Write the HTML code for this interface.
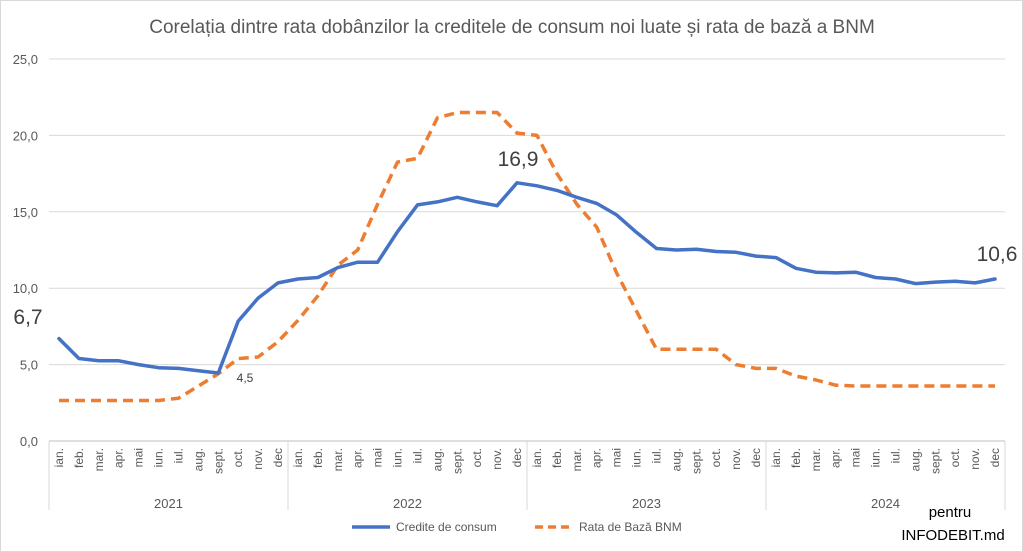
<!DOCTYPE html>
<html><head><meta charset="utf-8"><style>
html,body{margin:0;padding:0;background:#fff}
svg{display:block;font-family:"Liberation Sans",Calibri,sans-serif}
</style></head><body>
<svg id="c" width="1023" height="552" xmlns="http://www.w3.org/2000/svg">
<rect x="0.5" y="0.5" width="1022" height="551" fill="#fff" stroke="#d9d9d9"/>
<text x="512" y="33" text-anchor="middle" font-size="19" fill="#595959">Corelația dintre rata dobânzilor la creditele de consum noi luate și rata de bază a BNM</text>
<g id="grid"></g>
<g id="lbl" font-size="13" fill="#595959"></g>
<g id="mon" font-size="12" fill="#595959"></g>
<polyline id="o" fill="none" stroke="#ed7d31" stroke-width="3.5" stroke-dasharray="10,6" stroke-linejoin="round"/>
<polyline id="b" fill="none" stroke="#4472c4" stroke-width="3.5" stroke-linejoin="round" stroke-linecap="round"/>
<text x="28" y="324" text-anchor="middle" font-size="21" fill="#404040">6,7</text>
<text x="245" y="382" text-anchor="middle" font-size="12" fill="#404040">4,5</text>
<text x="518" y="166" text-anchor="middle" font-size="21" fill="#404040">16,9</text>
<text x="997" y="261" text-anchor="middle" font-size="21" fill="#404040">10,6</text>
<line x1="352" y1="527" x2="390" y2="527" stroke="#4472c4" stroke-width="3.5"/>
<text x="396" y="531" font-size="12" fill="#595959">Credite de consum</text>
<line x1="535" y1="527" x2="573" y2="527" stroke="#ed7d31" stroke-width="3.5" stroke-dasharray="8,5"/>
<text x="579" y="531" font-size="12" fill="#595959">Rata de Bază BNM</text>
<text x="950" y="517" text-anchor="middle" font-size="15" fill="#000">pentru</text>
<text x="953" y="540" text-anchor="middle" font-size="15" fill="#000">INFODEBIT.md</text>
</svg>
<script>
var L=49,R=1005,W=(R-L)/48,Y=function(v){return 441-v*15.28};
var g=document.getElementById('grid'),l=document.getElementById('lbl'),m=document.getElementById('mon');
var s='',t='',u='';
for(var i=0;i<=5;i++){var y=Y(i*5);s+='<line x1="'+L+'" x2="'+R+'" y1="'+y+'" y2="'+y+'" stroke="'+(i?'#d9d9d9':'#bfbfbf')+'"/>';t+='<text x="38" y="'+(y+5)+'" text-anchor="end">'+(i*5)+',0</text>';}
for(var k=0;k<=4;k++){var x=L+k*12*W;s+='<line x1="'+x+'" x2="'+x+'" y1="441" y2="510" stroke="#d9d9d9"/>';if(k<4)t+='<text x="'+(x+6*W)+'" y="508" text-anchor="middle">'+(2021+k)+'</text>';}
var mn=['ian.','feb.','mar.','apr.','mai','iun.','iul.','aug.','sept.','oct.','nov.','dec'];
for(var j=0;j<48;j++){var x=L+W*(j+0.5)+4;u+='<text transform="translate('+x+',448) rotate(-90)" text-anchor="end">'+mn[j%12]+'</text>';}
g.innerHTML=s;l.innerHTML=t;m.innerHTML=u;
var b=[6.7,5.4,5.25,5.25,5.0,4.8,4.75,4.6,4.45,7.85,9.35,10.35,10.6,10.7,11.35,11.7,11.7,13.7,15.45,15.65,15.95,15.65,15.4,16.9,16.7,16.4,15.95,15.55,14.8,13.65,12.6,12.5,12.55,12.4,12.35,12.1,12.0,11.3,11.05,11.0,11.05,10.7,10.6,10.3,10.4,10.45,10.35,10.6];
var o=[2.65,2.65,2.65,2.65,2.65,2.65,2.8,3.6,4.4,5.4,5.5,6.5,7.9,9.5,11.5,12.5,15.5,18.25,18.5,21.15,21.5,21.5,21.5,20.15,20.0,17.5,15.5,14.0,11.0,8.5,6.0,6.0,6.0,6.0,5.0,4.75,4.75,4.25,4.0,3.65,3.6,3.6,3.6,3.6,3.6,3.6,3.6,3.6];
function pts(a){return a.map(function(v,i){return (L+W*(i+0.5)).toFixed(1)+','+Y(v).toFixed(1)}).join(' ')}
document.getElementById('b').setAttribute('points',pts(b));
document.getElementById('o').setAttribute('points',pts(o));
</script>
</body></html>
